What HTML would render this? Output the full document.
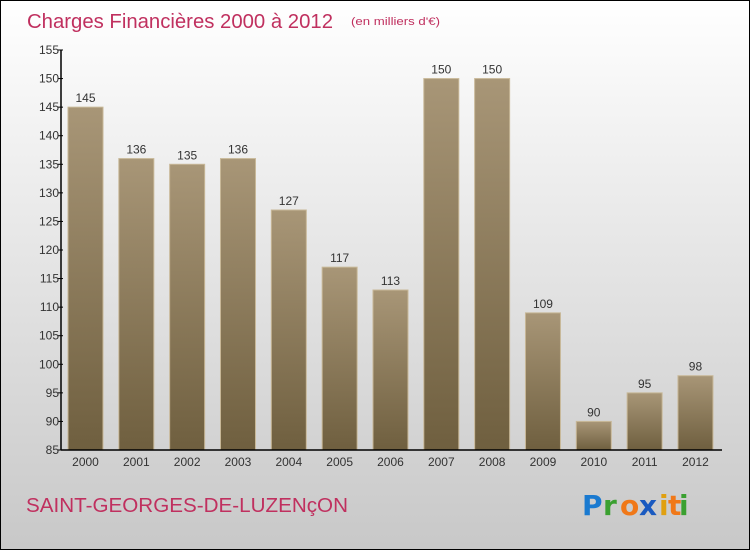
<!DOCTYPE html>
<html><head><meta charset="utf-8"><style>
html,body{margin:0;padding:0}
body{width:750px;height:550px;overflow:hidden;font-family:"Liberation Sans",sans-serif}
</style></head><body>
<svg id="chart" width="750" height="550" xmlns="http://www.w3.org/2000/svg">
<defs>
<linearGradient id="bg" x1="0" y1="0" x2="0" y2="1"><stop offset="0" stop-color="#ffffff"/><stop offset="1" stop-color="#c8c8c8"/></linearGradient>
<linearGradient id="bar" x1="0" y1="0" x2="0" y2="1"><stop offset="0" stop-color="#a89677"/><stop offset="1" stop-color="#6f5f3f"/></linearGradient>
</defs>
<rect x="0.5" y="0.5" width="749" height="549" fill="url(#bg)" stroke="#000" stroke-width="1"/>
<text x="27" y="28" font-size="20" textLength="306" lengthAdjust="spacingAndGlyphs" fill="#c0305f">Charges Financières 2000 à 2012</text>
<text x="351" y="25" font-size="11" textLength="89" lengthAdjust="spacingAndGlyphs" fill="#c0305f">(en milliers d'€)</text>
<g id="bars"></g>
<g id="axes"></g>
<text x="26" y="512" font-size="20" textLength="322" lengthAdjust="spacingAndGlyphs" fill="#c0305f">SAINT-GEORGES-DE-LUZENçON</text>
<g font-size="28" font-weight="bold" font-family="'DejaVu Sans',sans-serif">
<text x="582" y="515" fill="#1a7ad0">P</text><text x="603" y="515" fill="#3aa030">r</text><text x="620" y="515" fill="#f07818">o</text><text x="639" y="515" fill="#1a5ac0">x</text><text x="659" y="515" fill="#e0a010">i</text><text x="668" y="515" fill="#f07818">t</text><text x="679" y="515" fill="#3aa030">i</text>
</g>
</svg>
<script>
const categories=["2000","2001","2002","2003","2004","2005","2006","2007","2008","2009","2010","2011","2012"];
const values=[145,136,135,136,127,117,113,150,150,109,90,95,98];
const yTicks=[85,90,95,100,105,110,115,120,125,130,135,140,145,150,155];
const NS="http://www.w3.org/2000/svg";
const yMin=85,yMax=155,plotTop=50,plotBottom=450,plotLeft=61,plotRight=722;
const yS=v=>plotBottom-(v-yMin)/(yMax-yMin)*(plotBottom-plotTop);
const step=50.83,bw=35;
const xS=i=>85.5+i*step;
function mk(t,a){const e=document.createElementNS(NS,t);for(const k in a)e.setAttribute(k,a[k]);return e;}
const gb=document.getElementById('bars'),ga=document.getElementById('axes');
values.forEach((v,i)=>{
 const r=mk('rect',{x:xS(i)-bw/2,y:yS(v),width:bw,height:plotBottom-yS(v),fill:'url(#bar)',stroke:'#c8b898','stroke-width':1});
 
 
 gb.appendChild(r);
 const t=mk('text',{x:xS(i),y:yS(v)-5,'text-anchor':'middle','font-size':12,fill:'#333'});
 
 
 t.textContent=v;gb.appendChild(t);
 const c=mk('text',{x:xS(i),y:plotBottom+16,'text-anchor':'middle','font-size':12,fill:'#333'});
 
 
 c.textContent=categories[i];ga.appendChild(c);
});
const ya=mk('line',{x1:plotLeft,y1:plotTop,x2:plotLeft,y2:plotBottom,stroke:'#000','stroke-width':1.5});


ga.appendChild(ya);
const xa=mk('line',{x1:plotLeft,y1:plotBottom,x2:plotRight,y2:plotBottom,stroke:'#000','stroke-width':1.5});


ga.appendChild(xa);
yTicks.forEach(v=>{
 const l=mk('line',{x1:plotLeft-3,y1:yS(v),x2:plotLeft+2,y2:yS(v),stroke:'#000'});
 
 
 ga.appendChild(l);
 const t=mk('text',{x:plotLeft-2,y:yS(v)+4,'text-anchor':'end','font-size':12,fill:'#333'});
 
 
 t.textContent=v;ga.appendChild(t);
});
</script>
</body></html>
